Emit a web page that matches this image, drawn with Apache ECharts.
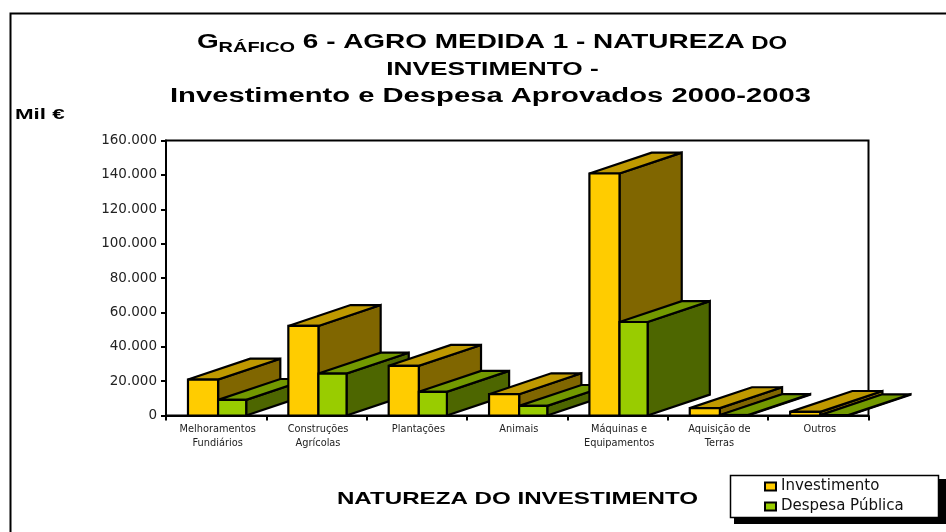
<!DOCTYPE html>
<html>
<head>
<meta charset="utf-8">
<style>html,body{margin:0;padding:0;background:#fff}#c{width:946px;height:532px}</style>
<script src="https://cdn.jsdelivr.net/npm/echarts@6/dist/echarts.min.js"></script>
</head>
<body>
<div id="c"></div>
<script>
const categories = ['Melhoramentos\nFundiários','Construções\nAgrícolas','Plantações','Animais','Máquinas e\nEquipamentos','Aquisição de\nTerras','Outros'];
const investimento = [20900, 52100, 28900, 12400, 140800, 4300, 2100];
const despesaPublica = [9100, 24400, 13800, 5600, 54400, 300, 200];
const yTicks = {min: 0, max: 160000, interval: 20000};

const FONT = '"DejaVu Sans", sans-serif';
const ARIAL = '"Liberation Sans", sans-serif';

function shade(hex, f) {
  const n = parseInt(hex.slice(1), 16);
  const c = s => Math.round(((n >> s) & 255) * f);
  return 'rgb(' + c(16) + ',' + c(8) + ',' + c(0) + ')';
}
function bar3d(color, startFrac, widthFrac, order) {
  return function (params, api) {
    const i = api.value(0), v = api.value(1);
    const base = api.coord([i, 0]), top = api.coord([i, v]);
    const band = api.size([1, 0])[0];
    const x0 = base[0] + startFrac * band, x1 = x0 + widthFrac * band;
    const dx = band * 0.62, dy = band * 0.208;
    const y0 = base[1], y1 = top[1];
    const z2 = i * 2 + order;
    const style = f => ({fill: shade(color, f), stroke: '#000', lineWidth: 2.2, lineJoin: 'miter', miterLimit: 2});
    return {type: 'group', children: [
      {type: 'polygon', z2, shape: {points: [[x1, y0], [x1 + dx, y0 - dy], [x1 + dx, y1 - dy], [x1, y1]]}, style: style(0.5)},
      {type: 'polygon', z2, shape: {points: [[x0, y1], [x0 + dx, y1 - dy], [x1 + dx, y1 - dy], [x1, y1]]}, style: style(0.75)},
      {type: 'polygon', z2, shape: {points: [[x0, y0], [x1, y0], [x1, y1], [x0, y1]]}, style: style(1)}
    ]};
  };
}
function stretched(text, cx, baseline, size, scaleX, rich, align) {
  return {
    type: 'text', silent: true, x: cx, y: baseline, scaleX, z: 5,
    style: {text, fontFamily: ARIAL, fontWeight: 'bold', fontSize: size, fill: '#000',
      textAlign: align || 'center', textVerticalAlign: 'bottom', verticalAlign: 'bottom', rich}
  };
}
const titleRich = {
  a: {fontFamily: ARIAL, fontWeight: 'bold', fontSize: 21, fill: '#000', color: '#000'},
  b: {fontFamily: ARIAL, fontWeight: 'bold', fontSize: 15, fill: '#000', color: '#000', padding: [11, 0, 0, 0]},
  d: {fontFamily: ARIAL, fontWeight: 'bold', fontSize: 18, fill: '#000', color: '#000', padding: [5, 0, 0, 0]}
};

const chart = echarts.init(document.getElementById('c'), null, {renderer: 'canvas'});
chart.setOption({
  animation: false,
  backgroundColor: '#fff',
  grid: {left: 166, top: 140.5, width: 702.5, height: 275, show: true, borderColor: '#000', borderWidth: 2, backgroundColor: 'transparent'},
  legend: {
    left: 764, top: 479, orient: 'vertical', itemWidth: 11, itemHeight: 8, itemGap: 5, itemStyle: {borderColor: '#000', borderWidth: 2},
    icon: 'rect', padding: 0, z: 6,
    textStyle: {fontFamily: FONT, fontSize: 15, color: '#111'},
    data: ['Investimento', 'Despesa Pública']
  },
  xAxis: {
    type: 'category', data: categories,
    axisLine: {lineStyle: {color: '#000', width: 2}},
    axisTick: {show: true, length: 5, lineStyle: {color: '#000', width: 2}},
    axisLabel: {fontFamily: FONT, fontSize: 9.8, color: '#222', margin: 7, lineHeight: 14, interval: 0, padding: [0, 0, 0, 3]},
    splitLine: {show: false}
  },
  yAxis: {
    type: 'value', min: yTicks.min, max: yTicks.max, interval: yTicks.interval,
    axisLine: {show: true, lineStyle: {color: '#000', width: 2}},
    axisTick: {show: true, length: 5, lineStyle: {color: '#000', width: 2}},
    splitLine: {show: false},
    axisLabel: {fontFamily: FONT, fontSize: 13.5, color: '#222', margin: 9, padding: [5, 0, 0, 0],
      formatter: v => String(v).replace(/\B(?=(\d{3})+$)/g, '.')}
  },
  graphic: [
    {type: 'polyline', silent: true, z: -1, shape: {points: [[10.5, 540], [10.5, 13.5], [950, 13.5]]}, style: {stroke: '#000', lineWidth: 2, fill: null}},
    stretched('{a|G}{b|RÁFICO}{a| 6 - AGRO MEDIDA 1 - NATUREZA}{d| DO}', 492, 55, 21, 1.33, titleRich),
    stretched('INVESTIMENTO -', 492.5, 79, 18.5, 1.42),
    stretched('Investimento e Despesa Aprovados 2000-2003', 490.5, 106, 20, 1.46),
    stretched('Mil €', 15, 122, 15, 1.49, null, 'left'),
    stretched('NATUREZA DO INVESTIMENTO', 517.5, 508, 17, 1.42),
    {type: 'rect', silent: true, z: 3, shape: {x: 734, y: 479, width: 212, height: 45}, style: {fill: '#000'}},
    {type: 'rect', silent: true, z: 4, shape: {x: 730.5, y: 475.5, width: 208, height: 42}, style: {fill: '#fff', stroke: '#000', lineWidth: 1.5}}
  ],
  series: [
    {name: 'Investimento', type: 'custom', itemStyle: {color: '#FFCC00'}, encode: {x: 0, y: 1},
     renderItem: bar3d('#FFCC00', -0.281, 0.3, 0),
     data: investimento.map((v, i) => [i, v])},
    {name: 'Despesa Pública', type: 'custom', itemStyle: {color: '#99CC00'}, encode: {x: 0, y: 1},
     renderItem: bar3d('#99CC00', 0.019, 0.28, 1),
     data: despesaPublica.map((v, i) => [i, v])}
  ]
});
</script>
</body>
</html>
